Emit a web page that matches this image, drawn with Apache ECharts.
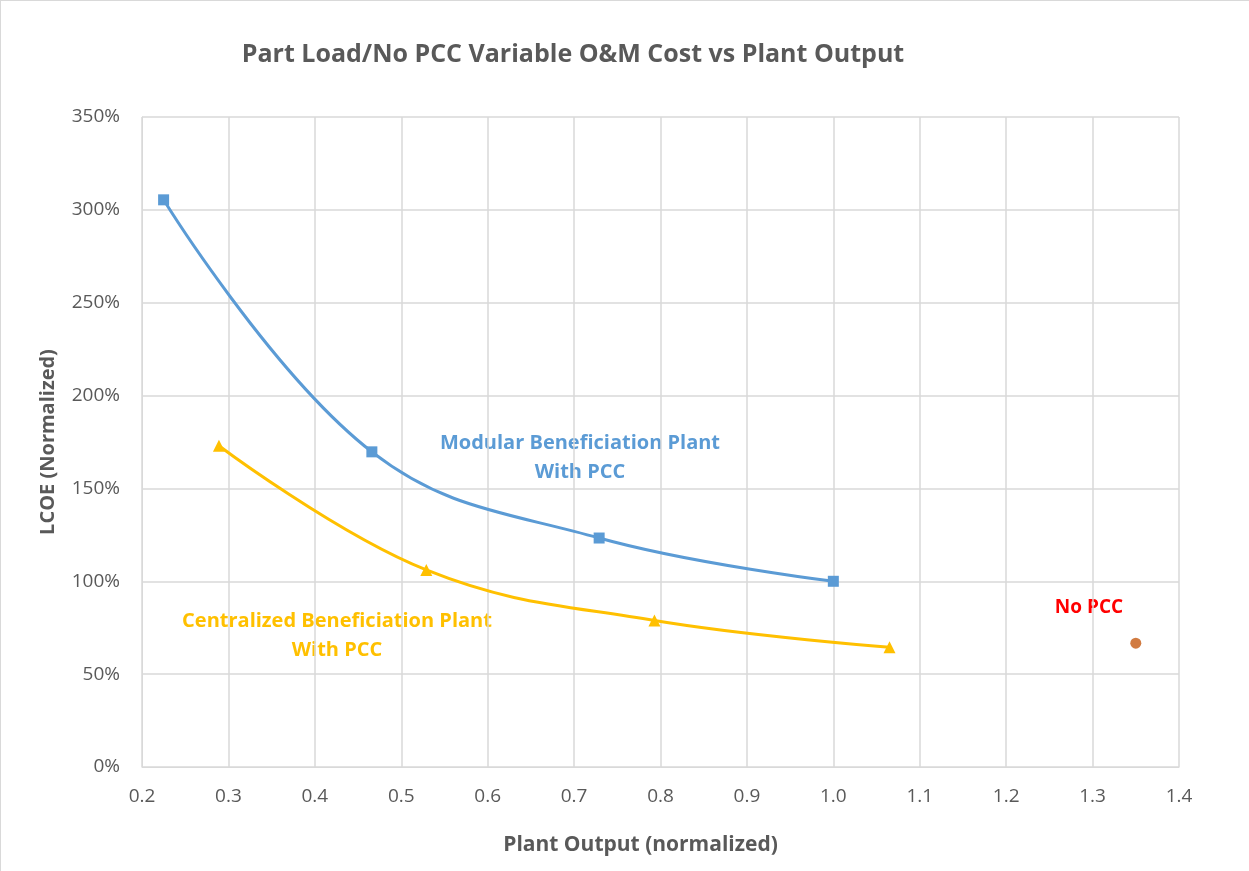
<!DOCTYPE html>
<html>
<head>
<meta charset="utf-8">
<script src="https://cdn.jsdelivr.net/npm/echarts@6/dist/echarts.min.js"></script>
<style>
html, body { margin: 0; padding: 0; background: #fff; }
#chart { width: 1249px; height: 871px; box-sizing: border-box; border-left: 1px solid #d9d9d9; border-top: 1px solid #d9d9d9; }
</style>
</head>
<body>
<div id="chart"></div>
<script>
// 数据
var modularX = [0.225, 0.466, 0.729, 1.0];
var modularY = [305.4, 169.7, 123.3, 100];
var centralX = [0.289, 0.529, 0.793, 1.065];
var centralY = [173, 106.1, 78.9, 64.5];
var noPccX = [1.35];
var noPccY = [66.7];

function pairs(xs, ys) {
	var out = [];
	for (var i = 0; i < xs.length; i++) {
		out.push([xs[i], ys[i]]);
	}
	return out;
}

var font = '"Open Sans", "Liberation Sans", sans-serif';
var myChart = echarts.init(document.getElementById('chart'));
var option = {
	backgroundColor : '#fff',
	animation : false,
	title : {
		text : 'Part Load/No PCC Variable O&M Cost vs Plant Output',
		left : 567,
		top : 36,
		textAlign : 'center',
		textStyle : {
			fontFamily : font,
			fontSize : 25,
			fontWeight : 'bold',
			color : '#595959'
		}
	},
	grid : {
		left : 141,
		right : 70,
		top : 116,
		bottom : 104
	},
	xAxis : {
		type : 'value',
		min : 0.2,
		max : 1.4,
		interval : 0.1,
		name : 'Plant Output (normalized)',
		nameLocation : 'middle',
		nameGap : 68,
		nameTextStyle : {
			fontFamily : font,
			fontSize : 21,
			fontWeight : 'bold',
			color : '#595959',
			padding : [0, 40, 0, 0]
		},
		axisLine : { show : true, lineStyle : { color : '#d9d9d9' } },
		axisTick : { show : false },
		axisLabel : {
			fontFamily : font,
			fontSize : 19,
			color : '#595959',
			margin : 20,
			formatter : function(v) { return v.toFixed(1); }
		},
		splitLine : { lineStyle : { color : '#d9d9d9', width : 1.5 } }
	},
	yAxis : {
		type : 'value',
		min : 0,
		max : 350,
		interval : 50,
		name : 'LCOE (Normalized)',
		nameLocation : 'middle',
		nameGap : 84,
		nameRotate : 90,
		nameTextStyle : {
			fontFamily : font,
			fontSize : 20,
			fontWeight : 'bold',
			color : '#595959'
		},
		axisLine : { show : true, lineStyle : { color : '#d9d9d9' } },
		axisTick : { show : false },
		axisLabel : {
			fontFamily : font,
			fontSize : 19,
			color : '#595959',
			margin : 22,
			formatter : '{value}%'
		},
		splitLine : { lineStyle : { color : '#d9d9d9', width : 1.5 } }
	},
	series : [ {
		name : 'Modular Beneficiation Plant With PCC',
		type : 'line',
		smooth : 0.4,
		data : pairs(modularX, modularY),
		symbol : 'rect',
		symbolSize : 11,
		lineStyle : { color : '#5b9bd5', width : 3 },
		itemStyle : { color : '#5b9bd5' }
	}, {
		name : 'Centralized Beneficiation Plant With PCC',
		type : 'line',
		smooth : 0.4,
		data : pairs(centralX, centralY),
		symbol : 'triangle',
		symbolSize : 12,
		lineStyle : { color : '#ffc000', width : 3 },
		itemStyle : { color : '#ffc000' }
	}, {
		name : 'No PCC',
		type : 'scatter',
		data : pairs(noPccX, noPccY),
		symbol : 'circle',
		symbolSize : 11,
		itemStyle : { color : '#c55a11' }
	} ],
	// 注释文字
	graphic : [ {
		type : 'text',
		x : 579,
		y : 428,
		style : {
			text : 'Modular Beneficiation Plant\nWith PCC',
			align : 'center',
			font : 'bold 20px ' + font,
			fill : '#5b9bd5',
			lineHeight : 29
		}
	}, {
		type : 'text',
		x : 336,
		y : 606,
		style : {
			text : 'Centralized Beneficiation Plant\nWith PCC',
			align : 'center',
			font : 'bold 20px ' + font,
			fill : '#ffc000',
			lineHeight : 29
		}
	}, {
		type : 'text',
		x : 1088,
		y : 597,
		style : {
			text : 'No PCC',
			align : 'center',
			font : 'bold 19px ' + font,
			fill : '#ff0000'
		}
	} ]
};
myChart.setOption(option);
</script>
</body>
</html>
